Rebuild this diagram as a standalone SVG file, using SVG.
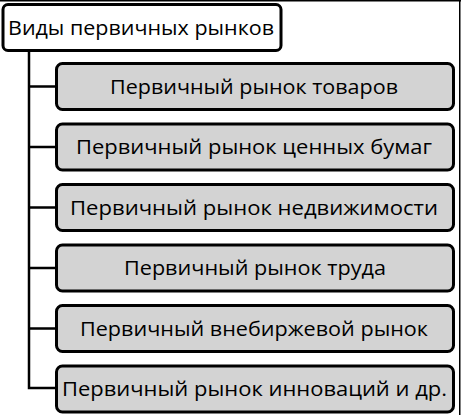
<svg xmlns="http://www.w3.org/2000/svg" width="461" height="415" viewBox="0 0 461 415">
<style>
.frame{stroke:#000;stroke-width:1.5;fill:none}
.root{fill:#fff;stroke:#000;stroke-width:3}
.box{fill:#d3d3d3;stroke:#000;stroke-width:3}
.conn{stroke:#000;stroke-width:2.5;fill:none}
text{font-family:"Open Sans","Noto Sans",sans-serif;font-size:20.5px;fill:#000}
.c{text-anchor:middle}
</style>
<rect width="461" height="415" fill="#fff"/>
<path class="frame" d="M0 0.75H461M459.75 0V415"/>
<g id="connectors">
<path class="conn" d="M29 51V388H56"/>
<path class="conn" d="M29 86.5H56M29 147H56M29 207.5H56M29 268H56M29 328.5H56"/>
</g>
<g id="root">
<rect class="root" x="3" y="4.5" width="278" height="46" rx="5"/>
<text x="8" y="34.5" textLength="266" lengthAdjust="spacingAndGlyphs">Виды первичных рынков</text>
</g>
<g id="n1">
<rect class="box" x="56.5" y="63.5" width="397" height="46" rx="6"/>
<text class="c" x="254" y="93.5" textLength="288" lengthAdjust="spacingAndGlyphs">Первичный рынок товаров</text>
</g>
<g id="n2">
<rect class="box" x="56.5" y="124" width="397" height="46" rx="6"/>
<text class="c" x="254" y="154" textLength="356" lengthAdjust="spacingAndGlyphs">Первичный рынок ценных бумаг</text>
</g>
<g id="n3">
<rect class="box" x="56.5" y="184.5" width="397" height="46" rx="6"/>
<text class="c" x="254" y="214.5" textLength="368" lengthAdjust="spacingAndGlyphs">Первичный рынок недвижимости</text>
</g>
<g id="n4">
<rect class="box" x="56.5" y="245" width="397" height="46" rx="6"/>
<text class="c" x="255" y="275" textLength="262" lengthAdjust="spacingAndGlyphs">Первичный рынок труда</text>
</g>
<g id="n5">
<rect class="box" x="56.5" y="305.5" width="397" height="46" rx="6"/>
<text class="c" x="254" y="335.5" textLength="348" lengthAdjust="spacingAndGlyphs">Первичный внебиржевой рынок</text>
</g>
<g id="n6">
<rect class="box" x="56.5" y="366" width="397" height="46" rx="6"/>
<text class="c" x="254.5" y="396" textLength="385" lengthAdjust="spacingAndGlyphs">Первичный рынок инноваций и др.</text>
</g>
</svg>
